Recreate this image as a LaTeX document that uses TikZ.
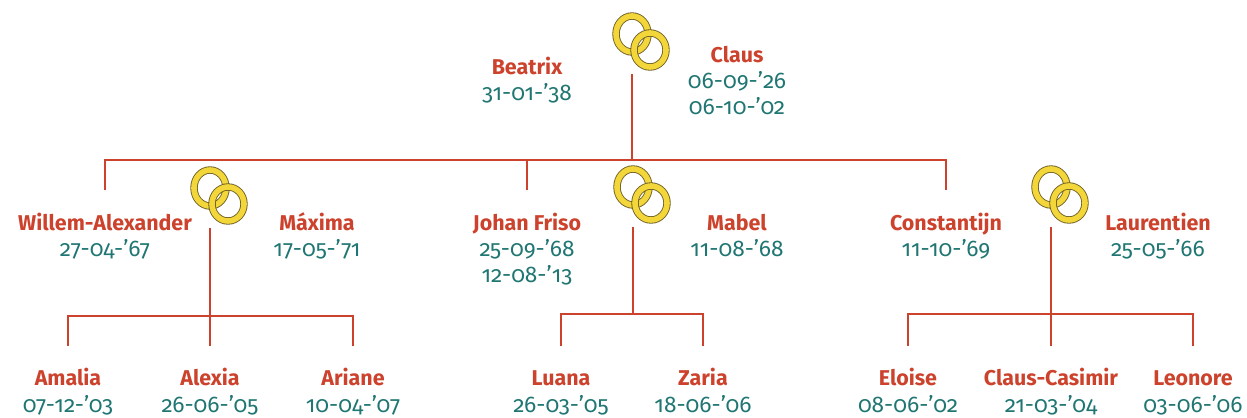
\documentclass[tikz,border=0pt]{standalone}
\usepackage{fontspec}
\setmainfont{Fira Sans}[Numbers=OldStyle]

\definecolor{kroon}{RGB}{204,66,44}
\definecolor{datum}{RGB}{32,118,114}
\definecolor{goud}{RGB}{242,214,58}
\definecolor{goudrand}{RGB}{110,95,35}

\tikzset{
    naam/.style={anchor=base, align=center, inner sep=0pt, font=\fontsize{12.2}{14.9}\selectfont},
    tak/.style={draw=kroon, line width=1.4pt},
    ring/.style={draw=goudrand, double=goud, double distance=3.2pt, line width=0.5pt},
}
\newcommand{\nm}[1]{{\bfseries\color{kroon}#1}}
\newcommand{\dt}[1]{{\fontsize{12.9}{14.9}\selectfont\color{datum}#1}}

\begin{document}
\begin{tikzpicture}[x=0.02cm, y=-0.02cm]
            \useasboundingbox (0,0) rectangle (1247,418);

            % trouwringen (basis is de laatste regel)
            \foreach \n/\x/\y in {r0/632/34, r1/210/188, r2/633/187, r3/1051/187} {
                \draw[ring] (\x,\y) ellipse (16 and 18);
                \draw[ring] (\x+18,\y+16) ellipse (16 and 17);
                \coordinate (\n) at (\x,\y+40);
            }

            \node[naam] (beatrix) at (527,101) {\nm{Beatrix}\\\dt{31-01-’38}};
            \node[naam] (claus) at (737,115) {\nm{Claus}\\\dt{06-09-’26}\\\dt{06-10-’02}};

            \node[naam] (willem) at (105,257) {\nm{Willem-Alexander}\\\dt{27-04-’67}};
            \node[naam] (maxima) at (317,257) {\nm{Máxima}\\\dt{17-05-’71}};
            \node[naam] (johan) at (527,283) {\nm{Johan Friso}\\\dt{25-09-’68}\\\dt{12-08-’13}};
            \node[naam] (mabel) at (737,257) {\nm{Mabel}\\\dt{11-08-’68}};
            \node[naam] (constantijn) at (946,257) {\nm{Constantijn}\\\dt{11-10-’69}};
            \node[naam] (laurentien) at (1158,257) {\nm{Laurentien}\\\dt{25-05-’66}};

            \foreach \n/\x/\wie/\wanneer in {amalia/68/Amalia/07-12-’03, alexia/210/Alexia/26-06-’05,
                ariane/353/Ariane/10-04-’07, luana/561/Luana/26-03-’05, zaria/703/Zaria/18-06-’06,
                eloise/908/Eloise/08-06-’02, clauscasimir/1051/Claus-Casimir/21-03-’04,
                leonore/1193/Leonore/03-06-’06} {
                \node[naam] (\n) at (\x,412) {\nm{\wie}\\\dt{\wanneer}};
            }

            \coordinate (top2) at (0,190);
            \coordinate (top3) at (0,346);
            \coordinate (bar0) at (632,160);
            \coordinate (bar1) at (210,316);
            \coordinate (bar2) at (633,314);
            \coordinate (bar3) at (1051,314);

            \draw[tak] (r0) -- (bar0);
            \draw[tak] (willem |- top2) |- (bar0) -| (constantijn |- top2);
            \draw[tak] (johan |- bar0) -- (johan |- top2);

            \draw[tak] (amalia |- top3) |- (bar1) -| (ariane |- top3);
            \draw[tak] (r1) -- (alexia |- top3);
            \draw[tak] (luana |- top3) |- (bar2) -| (zaria |- top3);
            \draw[tak] (r2) -- (bar2);
            \draw[tak] (eloise |- top3) |- (bar3) -| (leonore |- top3);
            \draw[tak] (r3) -- (clauscasimir |- top3);

        \end{tikzpicture}
\end{document}
